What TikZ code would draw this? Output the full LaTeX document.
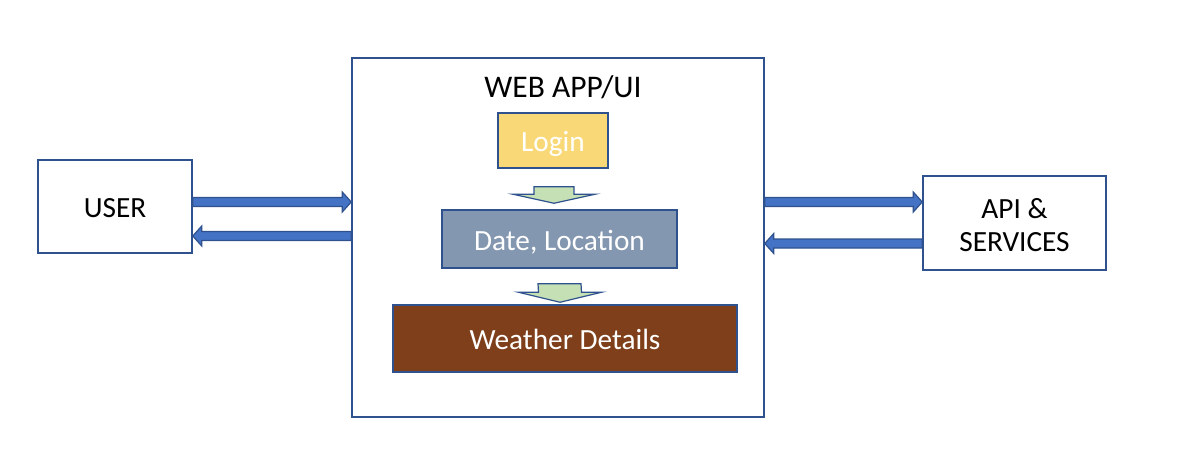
\documentclass[tikz,border=0pt]{standalone}
\usepackage{fontspec}
\setmainfont{Carlito}
\usetikzlibrary{calc}
\definecolor{bordblue}{HTML}{2F528F}
\definecolor{arrblue}{HTML}{4472C4}
\definecolor{arrgreen}{HTML}{C5E0B4}
\definecolor{loginfill}{HTML}{F9D977}
\definecolor{datefill}{HTML}{8497B0}
\definecolor{wxfill}{HTML}{7E3F1A}
\tikzset{
  box/.style={draw=bordblue, line width=1.5pt, inner sep=0pt, align=center, font=\fontsize{29.3}{33}\selectfont},
  oneline/.style={text height=24pt, text depth=1.2pt},
  whitebox/.style={box, fill=white, text=black},
  colbox/.style={box, oneline, text=white},
  barrow/.style={draw=bordblue, line width=1.2pt, fill=arrblue, line join=miter},
  garrow/.style={draw=bordblue, line width=1.2pt, fill=arrgreen, line join=miter},
}
\newcommand\harrow[3]{%
  \draw[barrow] ($(#1)+(0,4.5)$) -- ($(#2)+(#3,4.5)$) -- ($(#2)+(#3,10)$) -- (#2)
    -- ($(#2)+(#3,-10)$) -- ($(#2)+(#3,-4.5)$) -- ($(#1)+(0,-4.5)$) -- cycle;}
\newcommand\varrow[5]{% start(top center), tip, shaft half width, head half width, head length
  \draw[garrow] ($(#1)+(-#3,0)$) -- ($(#2)+(-#3,#5)$) -- ($(#2)+(-#4,#5)$) -- (#2)
    -- ($(#2)+(#4,#5)$) -- ($(#2)+(#3,#5)$) -- ($(#1)+(#3,0)$) -- cycle;}
\begin{document}
\begin{tikzpicture}[x=1pt,y=1pt]
\useasboundingbox (0,0) rectangle (1204,-476);
\node[whitebox, oneline, minimum width=154pt, minimum height=93pt] (user) at (115,-206.5) {USER};
\node[whitebox, minimum width=412pt, minimum height=359pt] (web) at (558,-237.5) {};
\node[font=\fontsize{31.5}{34}\selectfont, inner sep=0pt] (title) at (563,-87) {WEB APP/UI};
\node[colbox, fill=loginfill, minimum width=110pt, minimum height=55pt] (login) at (553,-140.5) {Login};
\node[colbox, fill=datefill, minimum width=235pt, minimum height=58pt] (date) at (559.5,-239) {Date, Location};
\node[colbox, fill=wxfill, minimum width=344pt, minimum height=67pt] (wx) at (565,-338.5) {Weather Details};
\node[whitebox, minimum width=183pt, minimum height=94pt] (api) at (1014.5,-223) {\rule{0pt}{24pt}API \&\\SERVICES};
% horizontal block arrows
\coordinate (r1) at (0,-202);
\coordinate (r2) at (0,-236);
\coordinate (r3) at (0,-202);
\coordinate (r4) at (0,-243.5);
\harrow{user.east |- r1}{web.west |- r1}{-9}
\harrow{web.west |- r2}{user.east |- r2}{9}
\harrow{web.east |- r3}{api.west |- r3}{-9}
\harrow{api.west |- r4}{web.east |- r4}{9}
% vertical arrows
\coordinate (d1s) at ($(login.south)+(1,-18)$);
\coordinate (d1e) at ($(date.north)+(-5.5,6)$);
\varrow{d1s}{d1e}{20}{41}{9}
\coordinate (d2s) at ($(date.south)+(0,-15)$);
\coordinate (d2e) at ($(wx.north)+(-5,2)$);
\varrow{d2s}{d2e}{21.5}{41.5}{10}
\end{tikzpicture}
\end{document}
